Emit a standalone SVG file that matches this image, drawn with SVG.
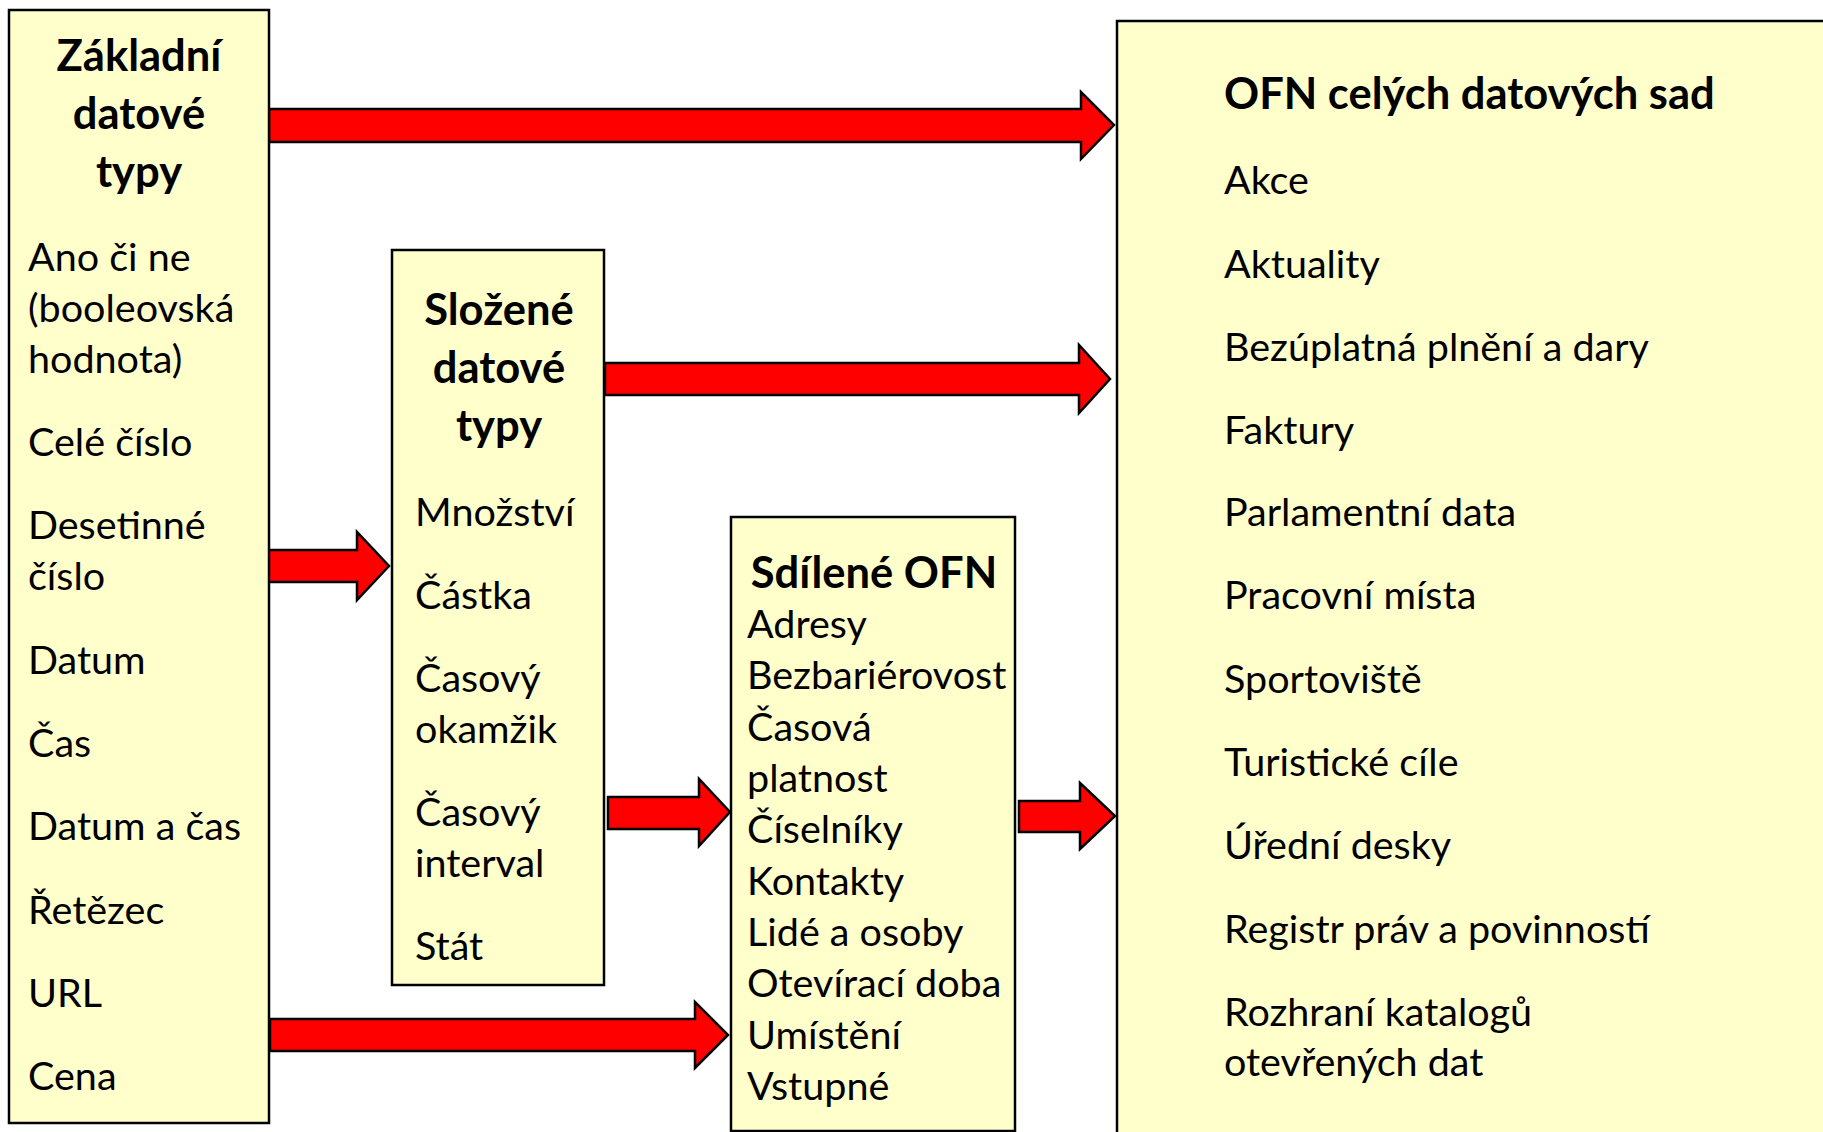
<svg xmlns="http://www.w3.org/2000/svg" width="1823" height="1132" viewBox="0 0 1823 1132">
<style>
.box{fill:#FFFFCC;stroke:#000;stroke-width:2.5}
.arr{fill:#FF0000;stroke:#000;stroke-width:2.5;stroke-linejoin:miter}
text{font-family:Lato,"Open Sans","Liberation Sans",sans-serif;fill:#000}
.t{font-size:43.5px;font-weight:bold}
.b{font-size:39.5px}
</style>
<rect width="1823" height="1132" fill="#fff"/>
<g id="connectors">
<polygon class="arr" points="269,109 1081,109 1081,92 1114,125 1081,159 1081,142 269,142"/>
<polygon class="arr" points="605,363 1079,363 1079,345 1110,379 1079,413 1079,395 605,395"/>
<polygon class="arr" points="268,550 357,550 357,532 389,566 357,600 357,582 268,582"/>
<polygon class="arr" points="608,797 699,797 699,779 730,812 699,846 699,829 608,829"/>
<polygon class="arr" points="1019,801 1080,801 1080,783 1115,816 1080,849 1080,832 1019,832"/>
<polygon class="arr" points="270,1019 695,1019 695,1002 728,1035 695,1068 695,1051 270,1051"/>
</g>
<g id="zakladni">
<rect class="box" x="9" y="10" width="260" height="1113"/>
<text class="t" x="139" y="71" text-anchor="middle">Základní</text>
<text class="t" x="139" y="129" text-anchor="middle">datové</text>
<text class="t" x="139" y="187" text-anchor="middle">typy</text>
<text class="b" x="28" y="271">Ano či ne</text>
<text class="b" x="28" y="322">(booleovská</text>
<text class="b" x="28" y="373">hodnota)</text>
<text class="b" x="28" y="456">Celé číslo</text>
<text class="b" x="28" y="539">Desetinné</text>
<text class="b" x="28" y="590">číslo</text>
<text class="b" x="28" y="674">Datum</text>
<text class="b" x="28" y="757">Čas</text>
<text class="b" x="28" y="840">Datum a čas</text>
<text class="b" x="28" y="924">Řetězec</text>
<text class="b" x="28" y="1007">URL</text>
<text class="b" x="28" y="1090">Cena</text>
</g>
<g id="slozene">
<rect class="box" x="392" y="250" width="212" height="735"/>
<text class="t" x="499" y="325" text-anchor="middle">Složené</text>
<text class="t" x="499" y="383" text-anchor="middle">datové</text>
<text class="t" x="499" y="441" text-anchor="middle">typy</text>
<text class="b" x="415" y="526">Množství</text>
<text class="b" x="415" y="609">Částka</text>
<text class="b" x="415" y="692">Časový</text>
<text class="b" x="415" y="743">okamžik</text>
<text class="b" x="415" y="826">Časový</text>
<text class="b" x="415" y="877">interval</text>
<text class="b" x="415" y="960">Stát</text>
</g>
<g id="sdilene">
<rect class="box" x="731" y="517" width="284" height="614"/>
<text class="t" x="874" y="588" text-anchor="middle">Sdílené OFN</text>
<text class="b" x="747" y="638">Adresy</text>
<text class="b" x="747" y="689">Bezbariérovost</text>
<text class="b" x="747" y="741">Časová</text>
<text class="b" x="747" y="792">platnost</text>
<text class="b" x="747" y="843">Číselníky</text>
<text class="b" x="747" y="895">Kontakty</text>
<text class="b" x="747" y="946">Lidé a osoby</text>
<text class="b" x="747" y="997">Otevírací doba</text>
<text class="b" x="747" y="1049">Umístění</text>
<text class="b" x="747" y="1100">Vstupné</text>
</g>
<g id="ofn-datovych-sad">
<rect class="box" x="1117" y="21" width="720" height="1125"/>
<text class="t" x="1224" y="109">OFN celých datových sad</text>
<text class="b" x="1224" y="194">Akce</text>
<text class="b" x="1224" y="278">Aktuality</text>
<text class="b" x="1224" y="361">Bezúplatná plnění a dary</text>
<text class="b" x="1224" y="444">Faktury</text>
<text class="b" x="1224" y="526">Parlamentní data</text>
<text class="b" x="1224" y="609">Pracovní místa</text>
<text class="b" x="1224" y="693">Sportoviště</text>
<text class="b" x="1224" y="776">Turistické cíle</text>
<text class="b" x="1224" y="859">Úřední desky</text>
<text class="b" x="1224" y="943">Registr práv a povinností</text>
<text class="b" x="1224" y="1026">Rozhraní katalogů</text>
<text class="b" x="1224" y="1076">otevřených dat</text>
</g>
</svg>
